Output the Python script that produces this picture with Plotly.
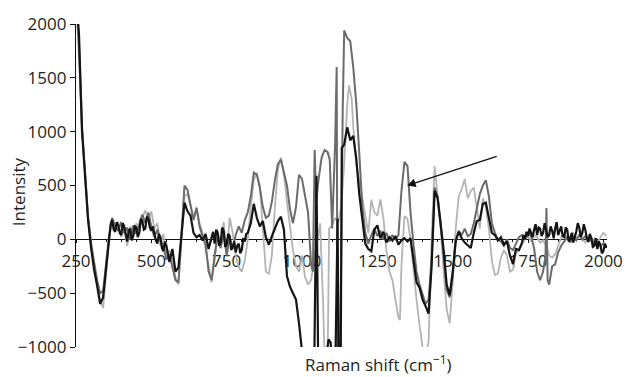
import plotly.graph_objects as go

# ---------------- data ----------------
black_x = ([250, 260, 270, 280, 290, 300, 310, 320, 330, 340, 350]
           + list(range(360, 561, 5))
           + list(range(570, 691, 10))
           + list(range(700, 821, 5))
           + [830, 840, 850, 860, 870, 880, 890, 900, 910, 920, 930, 940, 950, 960, 970, 980, 990, 1000, 1010, 1020,
              1030, 1040, 1048, 1054, 1060, 1070, 1080, 1088, 1095, 1102, 1110, 1118, 1122, 1128, 1132, 1140, 1150,
              1155, 1160, 1170, 1180, 1190]
           + list(range(1200, 1721, 10))
           + list(range(1730, 2011, 5)))
black_y = [2300, 1900, 1000, 560, 180, -80, -280, -430, -600, -540, -250,
           60, 140, 180, 90, 70, 160, 130, 60, 40, 150, 120, 30, -20, 80, 100, -10, 30, 120, 110, 20,
           60, 190, 170, 90, 100, 210, 190, 110, 80, 120, 40, -10, -40, 50, 20, -80, -110, -20, -60, -150, -210,
           -90, -300, -260, 40, 340, 260, 220, 60, 20, 40, -10, 50, -90,
           20, 70, -40, 90, 60, -60, -30, 110, 80, -70, -50, 50, 30, -100, -70, -20, -120, -60, -40, -130,
           -100, 10, -20, 50, 60,
           150, 330, 200, 120, 170, 20, -50, 30, 110, 170, 210, 90, -340, -440, -500, -560, -780, -1050, -1300, -1300,
           -1300, -1300, 590, -1300, -1300, -1300, -1100, -930, -960, -1300, -1300, 190, -1300, -1300, 850, 880, 1040,
           980, 920, 960, 750, 420,
           170, -40, -90, -110, 90, 130, 10, 70, -30, 20, -10, 30, -50, -10, 10, -20, 10, -200, -400, -450,
           -560, -620, -690, -250, 450, 380, 150, -100, -420, -520, -300, -20, 70, 10, -30, -60, -80, 60, 170, 180,
           330, 340, 180, 60, 40, -10, 20, -50, -20, -150, -230, -90, -100,
           -30, 40, 0, 70, 30, 100, 60, 20, 90, 140, 40, 110, 100, 30, 60, 150, 90, 20, 40, 120,
           80, 10, 100, 160, 40, 90, 120, 30, 20, 110, 90, -20, 0, 60, -30, 20, 70, 150, 110, 20,
           60, 140, 90, 10, -20, 50, 10, -70, -60, 10, -90, -20, -50, -130, -110, -40, -80]

dark_x = (list(range(250, 1031, 10))
          + [1036, 1042, 1047, 1055, 1065, 1075, 1085, 1092, 1100, 1110, 1115, 1118, 1126, 1135, 1140, 1150, 1160,
             1170, 1180, 1190]
          + list(range(1200, 1801, 10))
          + [1808, 1811, 1815]
          + list(range(1820, 2011, 10)))
dark_y = [2300, 1800, 1050, 600, 200, -40, -220, -380, -500, -480, -220, 40, 200, 120, 80, 160, 60, 110, 0, 130,
          50, 140, 230, 150, 250, 120, 20, 90, -10, -60, -190, -140, -250, -380, -400, 100, 500, 460, 300, 180,
          290, 120, 30, -40, -300, -380, -150, 40, -80, 60, -150, 20, -90, 40, 120, 60, 180, 250, 400, 620,
          600, 480, 300, 200, 220, 350, 550, 700, 740, 620, 500, 280, 150, 300, 600, 560, 400, 250, -230,
          -300, 830, 350, 560, 760, 830, 810, 740, 100, 900, 1600, -1300, -1300, 1200, 1940, 1870, 1840,
          1600, 1260, 800,
          300, 60, -40, 40, 100, 30, 80, 0, 60, -20, 40, 0, 40, 450, 720, 680, 250, -50, -300, -420,
          -520, -600, -560, -200, 480, 400, 150, -150, -470, -540, -350, 0, 80, 40, 100, 30, 50, 150, 300, 420,
          500, 550, 400, 150, 60, 0, -20, -60, 0, -80, -100, -40, 20, 40, 10, 60, 30, -80, -300, -380,
          -300,
          -150, 290, -380,
          -420, -250, -230, -120, -60, -20, 20, -30, 30, -10, 40, 0, 30, -20, 10, -40, -20, -60, -40, -70]

light_x = (list(range(250, 1071, 10))
           + [1075, 1085, 1090, 1100, 1110, 1120, 1130, 1140, 1150, 1156, 1165, 1170, 1180, 1190]
           + list(range(1200, 1321, 10))
           + [1325]
           + list(range(1330, 2011, 10)))
light_y = [2300, 1700, 1000, 620, 230, -20, -250, -400, -560, -640, -300, 0, 180, 100, 160, 20, 90, -60, 120, 40,
           150, 80, 200, 270, 180, 260, 100, 150, -60, 50, -150, -100, -200, -350, -420, 20, 400, 420, 320, 200,
           300, 150, 60, -100, -250, -400, -200, 80, -60, 160, -150, 200, 60, -150, -260, -300, -200, 0, 300, 550,
           620, 500, 100, -300, -320, -150, 300, 650, 760, 600, 350, 100, -100, -250, -300, -150, -350, -420, -380, -200,
           0, 150, -600,
           -1100, -1100, 100, 130, 200, 150, 300, 700, 1250, 1430, 1300, 1050, 700, 550,
           380, 250, 60, 370, 250, 220, 370, 200, -100, -300, -380, -560, -730,
           -750,
           -240, 215, 190, 0, -300, -560, -800,
           -1000, -1080, -950, 0, 680, 400, 100, -300, -650, -780, -400, 100, 400, 470, 560, 380, 450, 480, 300, 100,
           380, 300, 100, -200, -330, -320, -170, -100, -150, -300, -280, -130, -100, -50, 0, 30, -20, 40, 20, -30,
           -10, -60, -150, -170, -140, -60, 20, 50, 0, 30, 60, 10, 40, 0, -30, 20, -20, 10, -40, 20,
           60, 30]

assert len(black_x) == len(black_y), (len(black_x), len(black_y))
assert len(dark_x) == len(dark_y), (len(dark_x), len(dark_y))
assert len(light_x) == len(light_y), (len(light_x), len(light_y))

x_ticks = [250, 500, 750, 1000, 1250, 1500, 1750, 2000]
y_ticks = [-1000, -500, 0, 500, 1000, 1500, 2000]
y_tick_text = ["\u22121000", "\u2212500", "0", "500", "1000", "1500", "2000"]

# ---------------- figure ----------------
FONT = "Open Sans"
TXT = "#231f20"

fig = go.Figure()
fig.add_trace(go.Scatter(x=light_x, y=light_y, mode="lines",
                         line=dict(color="#b4b4b4", width=1.8), hoverinfo="skip"))
fig.add_trace(go.Scatter(x=dark_x, y=dark_y, mode="lines",
                         line=dict(color="#6b6b6b", width=2), hoverinfo="skip"))
fig.add_trace(go.Scatter(x=black_x, y=black_y, mode="lines",
                         line=dict(color="#141414", width=2.2), hoverinfo="skip"))

fig.update_layout(
    width=635, height=377,
    margin=dict(l=76, r=17, t=19, b=30),
    paper_bgcolor="white", plot_bgcolor="white",
    showlegend=False,
    font=dict(family=FONT, size=17, color=TXT),
    xaxis=dict(range=[250, 2012], tickvals=x_ticks, anchor="free", position=1/3,
               showline=True, linecolor="#111111", linewidth=1.3,
               ticks="outside", ticklen=3, tickcolor="#111111",
               minor=dict(dtick=50, ticks="outside", ticklen=2, tickcolor="#111111"),
               showgrid=False, zeroline=False, layer="below traces",
               ticklabelstandoff=3,
               tickfont=dict(family=FONT, size=17, color=TXT)),
    yaxis=dict(range=[-1000, 2000], tickvals=y_ticks, ticktext=y_tick_text,
               showline=True, linecolor="#111111", linewidth=1.3,
               ticks="outside", ticklen=5, tickcolor="#111111",
               showgrid=False, zeroline=False,
               tickfont=dict(family=FONT, size=17, color=TXT)),
)

fig.add_annotation(text="Intensity", xref="paper", yref="paper",
                   x=-0.107, y=0.48, xanchor="center", yanchor="middle",
                   textangle=-90, showarrow=False,
                   font=dict(family=FONT, size=17, color=TXT))
fig.add_annotation(text="Raman shift (cm<sup>\u22121</sup>)", xref="paper", yref="paper",
                   x=0.57, y=-0.05, showarrow=False, xanchor="center", yanchor="middle",
                   font=dict(family=FONT, size=17, color=TXT))
fig.add_annotation(x=1349, y=500, ax=1651, ay=775, xref="x", yref="y", axref="x", ayref="y",
                   text="", showarrow=True, arrowhead=2, arrowsize=1.3, arrowwidth=1.3,
                   arrowcolor="#111111")

fig.write_html("out.html")
